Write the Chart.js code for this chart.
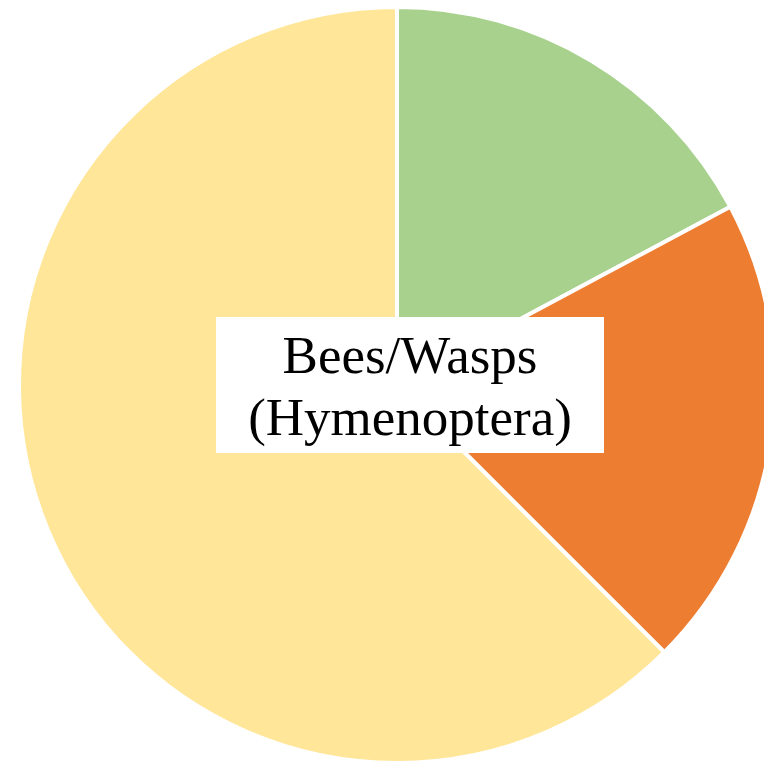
<!DOCTYPE html>
<html>
<head>
<meta charset="utf-8">
<script src="https://cdn.jsdelivr.net/npm/chart.js@4/dist/chart.umd.min.js"></script>
<style>
  html, body { margin: 0; padding: 0; background: #fff; overflow: hidden; }
  #wrap { position: relative; width: 794px; height: 770px; }
</style>
</head>
<body>
<div id="wrap"><canvas id="chart_1"></canvas></div>
<script>
// slice data (clockwise from 12 o'clock)
var categories = ["Other", "Other insects", "Bees/Wasps (Hymenoptera)"];
var counts = [11, 13, 40];
var colors = ["#A9D18E", "#ED7D31", "#FFE699"];
// label shown in the middle box
var centerLines = ["Bees/Wasps", "(Hymenoptera)"];

const ctx1 = document.getElementById("chart_1");

new Chart(ctx1, {
  type: "pie",
  data: {
    labels: categories,
    datasets: [
      {
        data: counts,
        backgroundColor: colors,
        borderColor: "#ffffff",
        borderWidth: 4,
      },
    ],
  },
  options: {
    responsive: true,
    maintainAspectRatio: false,
    animation: false,
    layout: { padding: { top: 5, bottom: 5, left: 0, right: 0 } },
    plugins: {
      legend: { display: false },
      tooltip: { enabled: false },
    },
  },
  plugins: [
    {
      // white box with the label in the middle
      id: "centerBox",
      afterDraw: (chart) => {
        const { ctx } = chart;
        const arc = chart.getDatasetMeta(0).data[0];
        const cx = arc.x + 13;
        const cy = arc.y;
        ctx.save();
        ctx.fillStyle = "#ffffff";
        ctx.fillRect(cx - 194, cy - 68, 388, 136);
        ctx.fillStyle = "#000000";
        ctx.font = "53px 'Liberation Serif'";
        ctx.textAlign = "center";
        ctx.textBaseline = "alphabetic";
        ctx.fillText(centerLines[0], cx, cy - 12);
        ctx.fillText(centerLines[1], cx, cy + 50);
        ctx.restore();
      },
    },
  ],
});
</script>
</body>
</html>
